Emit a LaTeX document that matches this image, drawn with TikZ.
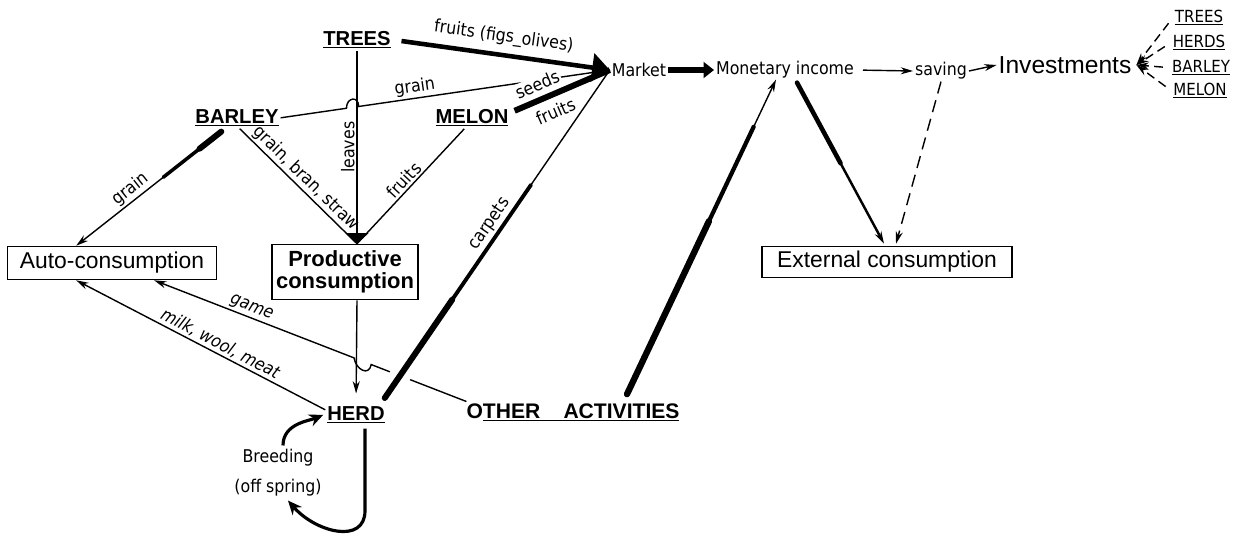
\documentclass[tikz,border=0pt]{standalone}
\usepackage{fontspec}
\setmainfont{Liberation Sans}
\newfontfamily\condfont{DejaVu Sans Condensed}
\usetikzlibrary{arrows.meta,calc}
\tikzset{%
    >={Stealth[length=7pt,width=4pt]},
    sector/.style={%
        anchor=base,
        inner sep=1pt,
        font=\bfseries\fontsize{11.5}{13}\selectfont
    },
    account/.style={%
        rectangle,
        draw,
        line width=0.9pt,
        align=center,
        inner sep=1pt,
        font=\fontsize{13}{15}\selectfont
    },
    flowlabel/.style={%
        inner sep=1pt,
        font=\condfont\fontsize{10}{12}\selectfont
    },
    slanted/.style={%
        inner sep=1pt,
        font=\condfont\itshape\fontsize{10}{12}\selectfont
    },
    listitem/.style={%
        anchor=base,
        inner sep=1pt,
        font=\condfont\fontsize{9.5}{11}\selectfont
    },
    link/.style={%
        line width=0.8pt
    },
    heavy/.style={%
        line width=#1,
        line cap=round
    }
}

\begin{document}
\begin{tikzpicture}[x=0.02cm,y=-0.02cm]
\useasboundingbox (0,0) rectangle (1247,539);

% producing sectors
\node[sector] (trees) at (357,45) {\underline{TREES}};
\node[sector] (barley) at (237,123) {\underline{BARLEY}};
\node[sector] (melon) at (472,123) {\underline{MELON}};
\node[sector] (herd) at (356,420) {\underline{HERD}};
\node[sector,font=\bfseries\fontsize{12}{14}\selectfont] (other) at (573,418) {O\underline{THER\hspace{1.1em}ACTIVITIES}};

% uses
\node[account,minimum width=4.18cm,minimum height=0.66cm] (auto) at (112,263) {Auto-consumption};
\node[account,minimum width=2.92cm,minimum height=1.1cm,font=\bfseries\fontsize{12.5}{12.5}\selectfont] (prod) at (345,272) {Productive\\consumption};
\node[account,minimum width=5cm,minimum height=0.62cm] (extcons) at (887,262) {External consumption};

% money side
\node[flowlabel] (market) at (639,70) {Market};
\node[flowlabel] (income) at (785,70) {Monetary income};
\node[flowlabel] (saving) at (941,71) {saving};
\node[inner sep=1pt,font=\fontsize{14}{16}\selectfont] (invest) at (1065,65) {Investments};
\node[listitem] (ltrees) at (1199,22) {\underline{TREES}};
\node[listitem] (lherds) at (1199,47) {\underline{HERDS}};
\node[listitem] (lbarley) at (1201,72) {\underline{BARLEY}};
\node[listitem] (lmelon) at (1200,95) {\underline{MELON}};
\node[flowlabel,align=center,font=\condfont\fontsize{10}{17}\selectfont] (breed) at (278,473) {Breeding\\(off spring)};

% trees
\draw[heavy=2.6pt,line cap=butt,-{Triangle[length=10pt,width=16pt]},shorten <=5pt] (trees.east) -- node[flowlabel,above=3pt,sloped]{fruits (figs\_olives)} (market.west);
\coordinate (meet) at (trees.south |- prod.north);
\draw[link,{Triangle[length=6pt,width=13pt]}-] (meet) -- node[flowlabel,above,sloped]{leaves} (trees.south);
\draw[link] ($(barley.south west)!0.53!(barley.south east)$) -- node[flowlabel,above,sloped]{grain, bran, straw} (meet);
\draw[link] (meet) -- node[flowlabel,above,sloped]{fruits} ($(melon.south west)!0.4!(melon.south east)$);

% barley to market, over the leaves line
\coordinate (hopa) at ($(barley.east)!0.2!(market.west)$);
\coordinate (hopb) at ($(barley.east)!0.237!(market.west)$);
\draw[link] (barley.east) -- (hopa) .. controls +(0,-11) and +(0,-11) .. (hopb) -- node[flowlabel,pos=0.23,above,sloped]{grain} (market.west);
\draw[heavy=3.4pt,line cap=butt] ($(melon.north east)+(4,4)$) -- node[flowlabel,pos=0.3,above=2pt,sloped,fill=white]{seeds} node[flowlabel,pos=0.36,below=3pt,sloped]{fruits} (market.west);

% carpets
\coordinate (herdne) at ($(herd.north east)+(-2,-6)$);
\coordinate (cpa) at ($(herdne)!0.3!(market.west)$);
\coordinate (cpb) at ($(herdne)!0.65!(market.west)$);
\draw[heavy=3.4pt] (herdne) -- (cpa);
\draw[heavy=2.2pt] (cpa) -- node[flowlabel,pos=0.6,above,sloped]{carpets} (cpb);
\draw[link] (cpb) -- (market.west);

% other activities
\coordinate (actv) at ($(other.north)+(54,-7)$);
\coordinate (incomein) at ($(income.south)+(-9,-1)$);
\coordinate (oia) at ($(actv)!0.55!(incomein)$);
\coordinate (oib) at ($(actv)!0.85!(incomein)$);
\draw[heavy=3.6pt] (actv) -- (oia);
\draw[heavy=2.4pt] (oia) -- (oib);
\draw[link,->] (oib) -- (incomein);

% spending
\coordinate (incout) at ($(income.south)+(12,2)$);
\coordinate (extin) at ($(extcons.north)+(-3,-2)$);
\draw[heavy=2.6pt] (incout) -- ($(incout)!0.5!(extin)$);
\draw[link,line width=1.4pt,->] ($(incout)!0.5!(extin)$) -- (extin);
\draw[link,->,dash pattern=on 7pt off 4pt] (saving.south) -- ($(extcons.north)+(9,-2)$);
\draw[heavy=3pt,line cap=butt,-{Triangle[length=6pt,width=9pt]}] (market.east) -- (income.west);
\draw[link,->,shorten <=4pt] (income.east) -- (saving.west);
\draw[link,->] (saving.east) -- (invest.west);
\coordinate (investtip) at ($(invest.east)+(3,0)$);
\foreach \inv in {ltrees,lherds,lbarley,lmelon}
    \draw[link,->,dash pattern=on 5pt off 3pt,shorten <=4pt] (\inv.west) -- (investtip);

% auto-consumption
\coordinate (barleyout) at ($(barley.south west)!0.32!(barley.south east)+(0,3)$);
\coordinate (autoin) at ($(auto.north west)!0.33!(auto.north east)$);
\draw[heavy=3.4pt] (barleyout) -- ($(barleyout)!0.15!(autoin)$);
\draw[heavy=2pt] ($(barleyout)!0.15!(autoin)$) -- ($(barleyout)!0.4!(autoin)$);
\draw[link,->] ($(barleyout)!0.4!(autoin)$) -- (autoin);
\path (autoin) -- node[flowlabel,pos=0.42,above,sloped]{grain} (barleyout);
\coordinate (automilk) at ($(auto.south west)!0.33!(auto.south east)$);
\draw[link,<-] (automilk) -- node[slanted,pos=0.56,above,sloped]{milk, wool, meat} ($(herd.west)+(0,-5)$);
\coordinate (autogame) at ($(auto.south west)!0.7!(auto.south east)$);
\coordinate (othergame) at ($(other.west)+(2,-11)$);
\draw[link,<-] (autogame) -- node[slanted,pos=0.47,above,sloped]{game} ($(autogame)!0.64!(othergame)$) .. controls +(2,12) and +(-2,12) .. ($(autogame)!0.695!(othergame)$) -- ($(autogame)!0.755!(othergame)$);
\draw[link] ($(autogame)!0.82!(othergame)$) -- (othergame);

% herd
\draw[link,->,shorten >=6pt] (meet |- prod.south) -- (herd.north);
\draw[heavy=1.8pt,line cap=butt,-{Stealth[length=8pt,width=7pt]}] ($(herd.south)+(9,3)$) -- ++(0,82) .. controls +(0,34) and +(28,32) .. ($(breed.south)+(10,2)$);
\draw[heavy=1.8pt,line cap=butt,-{Stealth[length=8pt,width=7pt]}] ($(breed.north)+(5,-2)$) .. controls +(0,-22) and +(-14,6) .. ($(herd.west)+(-2,0)$);
\end{tikzpicture}
\end{document}
